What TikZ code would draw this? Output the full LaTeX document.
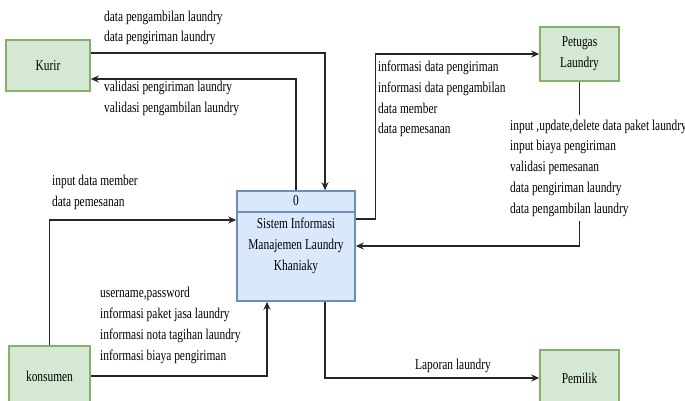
\documentclass[tikz,border=0pt]{standalone}
\usepackage{fontspec}
\setmainfont{Liberation Serif}[FakeStretch=0.76]
\usetikzlibrary{arrows.meta}

\definecolor{hijauisi}{HTML}{D5E8D4}
\definecolor{hijaugaris}{HTML}{82B366}
\definecolor{biruisi}{HTML}{DAE8FC}
\definecolor{birugaris}{HTML}{6C8EBF}

\tikzset{
  entitas/.style={draw=hijaugaris, fill=hijauisi, line width=1.6pt, align=center,
    font=\fontsize{15}{20.7}\selectfont, inner sep=0pt},
  proses/.style={draw=birugaris, fill=biruisi, line width=1.6pt, align=center,
    font=\fontsize{15}{20.7}\selectfont, inner sep=0pt},
  alir/.style={draw=black!85, line width=1.1pt, -{Stealth[length=8pt,width=7pt]}},
  ket/.style={anchor=base west, align=left, inner xsep=0pt,
    font=\fontsize{15}{20.7}\selectfont}
}

\begin{document}
\begin{tikzpicture}[x=1pt,y=-1pt]
  \useasboundingbox (0,0) rectangle (685,401);
  \clip (0,0) rectangle (685,401);

  % entitas luar
  \node[entitas, minimum width=84pt, minimum height=51pt] (kurir) at (48,65.5) {Kurir};
  \node[entitas, minimum width=79pt, minimum height=54pt] (petugas) at (579.5,54) {Petugas\\Laundry};
  \node[entitas, minimum width=81pt, minimum height=60pt] (konsumen) at (49.5,376) {konsumen};
  \node[entitas, minimum width=79pt, minimum height=56pt] (pemilik) at (579.5,378) {Pemilik};

  % proses
  \node[proses, minimum width=118pt, minimum height=110pt] (sistem) at (296,246)
    {Sistem Informasi\\Manajemen Laundry\\Khaniaky};
  \draw[birugaris, line width=1.6pt] ([yshift=-22pt]sistem.north west) -- ([yshift=-22pt]sistem.north east);
  \node[font=\fontsize{15}{18}\selectfont] (nomor) at (296,201) {0};

  % aliran data
  \draw[alir] ([yshift=12.5pt]kurir.east) -| ([xshift=29pt]sistem.north);
  \draw[alir] (sistem.north) |- ([yshift=-13.5pt]kurir.east);
  \draw[alir] ([yshift=27pt]sistem.east) -| ++(20pt,0) |- (petugas.west);
  \draw[alir] (petugas.south) |- (sistem.east);
  \draw[alir] (konsumen.north) |- ([yshift=26pt]sistem.west);
  \draw[alir] (konsumen.east) -| ([xshift=-29pt]sistem.south);
  \draw[alir] ([xshift=29pt]sistem.south) |- (pemilik.west);

  % keterangan (base = baris terakhir)
  \node[ket] (ketkurir1) at (104,42) {data pengambilan laundry\\data pengiriman laundry};
  \node[ket] (ketkurir2) at (104,112.5) {validasi pengiriman laundry\\validasi pengambilan laundry};
  \node[ket] (ketpetugas1) at (378,134) {informasi data pengiriman\\informasi data pengambilan\\data member\\data pemesanan};
  \node[ket, fill=white, inner ysep=5pt] (ketpetugas2) at (510,213)
    {input ,update,delete data paket laundry\\input biaya pengiriman\\validasi pemesanan\\data pengiriman laundry\\data pengambilan laundry};
  \node[ket] (ketkonsumen1) at (52,206) {input data member\\data pemesanan};
  \node[ket] (ketkonsumen2) at (100,360) {username,password\\informasi paket jasa laundry\\informasi nota tagihan laundry\\informasi biaya pengiriman};
  \node[ket] (ketpemilik) at (415,369) {Laporan laundry};
\end{tikzpicture}
\end{document}
